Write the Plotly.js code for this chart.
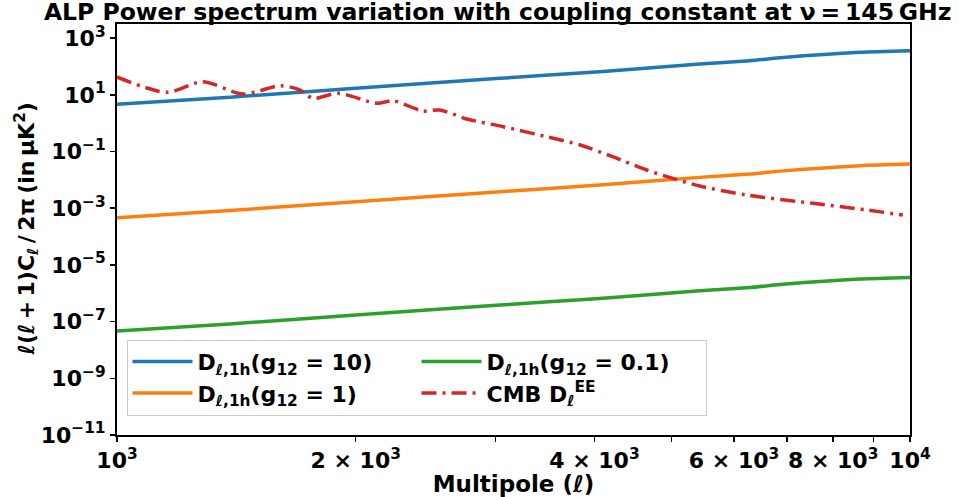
<!DOCTYPE html>
<html>
<head>
<meta charset="utf-8">
<script src="https://cdn.plot.ly/plotly-3.0.1.min.js"></script>
<style>html,body{margin:0;padding:0;background:#fff;}#chart{width:959px;height:497px;}</style>
</head>
<body>
<div id="chart"></div>
<script>
// Multipole values for the one-halo ALP spectra
const ellALP = [1000, 1388, 2000, 3040, 4060, 5430, 6280, 6920, 8650, 10000];
// D_{l,1h} for g12 = 10
const dG10 = [4.65, 8.3, 17.0, 38.4, 65.6, 122.7, 160, 208, 317, 361];
// D_{l,1h} for g12 = 1
const dG1 = [4.65e-4, 8.3e-4, 1.70e-3, 3.84e-3, 6.56e-3, 1.227e-2, 1.60e-2, 2.08e-2, 3.17e-2, 3.61e-2];
// D_{l,1h} for g12 = 0.1
const dG01 = [4.65e-8, 8.3e-8, 1.70e-7, 3.84e-7, 6.56e-7, 1.227e-6, 1.60e-6, 2.08e-6, 3.17e-6, 3.61e-6];
// CMB EE spectrum
const ellCMB = [1000, 1156, 1282, 1442, 1607, 1702, 1766, 1901, 2128, 2228, 2432, 2553, 2761, 3069, 3483, 3837, 4217, 4656, 5023, 5433, 6223, 7551, 8831, 9795];
const dCMB = [42.7, 12.3, 29.1, 10.7, 21.0, 14.8, 7.55, 11.35, 5.04, 6.22, 2.69, 2.92, 1.41, 0.752, 0.333, 0.170, 0.0658, 0.0223, 0.01135, 0.00608, 0.00292, 0.00149, 0.000865, 0.000575];

const xTickVals = [1000, 2000, 3000, 4000, 5000, 6000, 7000, 8000, 9000, 10000];
const xTickText = ['10<sup>3</sup>', '2 × 10<sup>3</sup>', '', '4 × 10<sup>3</sup>', '', '6 × 10<sup>3</sup>', '', '8 × 10<sup>3</sup>', '', '10<sup>4</sup>'];
const yTickVals = [1e3, 1e1, 1e-1, 1e-3, 1e-5, 1e-7, 1e-9, 1e-11];
const yTickText = ['10<sup>3</sup>', '10<sup>1</sup>', '10<sup>−1</sup>', '10<sup>−3</sup>', '10<sup>−5</sup>', '10<sup>−7</sup>', '10<sup>−9</sup>', '10<sup>−11</sup>'];

const seriesNames = [
  'D<sub>ℓ,1h</sub>(g<sub>12</sub> = 10)',
  'D<sub>ℓ,1h</sub>(g<sub>12</sub> = 1)',
  'D<sub>ℓ,1h</sub>(g<sub>12</sub> = 0.1)',
  'CMB D<sub>ℓ</sub><sup>EE</sup>'
];
const yTitle = 'ℓ(ℓ\u2009+\u20091)C<sub>ℓ</sub>\u2009/\u20092π\u2009(in\u2009μK<sup>2</sup>)';

const FONT = 'DejaVu Sans, sans-serif';

const traces = [
  {x: ellALP, y: dG10, name: seriesNames[0], mode: 'lines', legendrank: 1,
   line: {color: '#1f77b4', width: 3.5, shape: 'spline', smoothing: 0.6}},
  {x: ellALP, y: dG1, name: seriesNames[1], mode: 'lines', legendrank: 3,
   line: {color: '#ff7f0e', width: 3.5, shape: 'spline', smoothing: 0.6}},
  {x: ellALP, y: dG01, name: seriesNames[2], mode: 'lines', legendrank: 2,
   line: {color: '#2ca02c', width: 3.5, shape: 'spline', smoothing: 0.6}},
  {x: ellCMB, y: dCMB, name: seriesNames[3], mode: 'lines', legendrank: 4,
   line: {color: '#d62728', width: 3.5, dash: '15px,6px,3px,6px', shape: 'spline', smoothing: 0.8}}
];

const layout = {
  width: 959, height: 497,
  margin: {l: 117, r: 49, t: 24, b: 62},
  paper_bgcolor: '#fff', plot_bgcolor: '#fff',
  font: {family: FONT, color: '#000', size: 20, weight: 'bold'},
  title: {text: 'ALP Power spectrum variation with coupling constant at ν\u2009=\u2009145\u2009GHz',
          font: {family: FONT, size: 23.5, weight: 'bold', color: '#000'},
          x: 0.48, xref: 'paper', xanchor: 'center', y: 0.993, yref: 'container', yanchor: 'top'},
  xaxis: {
    type: 'log', range: [3, 4],
    tickvals: xTickVals, ticktext: xTickText,
    ticks: 'outside', ticklen: 5, tickwidth: 1.5, tickcolor: '#000',
    tickfont: {family: FONT, size: 22, weight: 'bold'},
    showgrid: false, zeroline: false,
    showline: true, linecolor: '#000', linewidth: 2, mirror: true,
    title: {text: 'Multipole (ℓ)', font: {family: FONT, size: 23, weight: 'bold'}, standoff: 2},
    automargin: false
  },
  yaxis: {
    type: 'log', range: [-11, 3.5],
    tickvals: yTickVals, ticktext: yTickText,
    ticks: 'outside', ticklen: 5, tickwidth: 1.5, tickcolor: '#000',
    tickfont: {family: FONT, size: 22, weight: 'bold'},
    showgrid: false, zeroline: false,
    showline: true, linecolor: '#000', linewidth: 2, mirror: true,
    automargin: false
  },
  annotations: [{
    text: yTitle, textangle: -90, showarrow: false,
    xref: 'paper', yref: 'paper', x: 0, y: 0.5, xanchor: 'center', yanchor: 'middle',
    xshift: -91, font: {family: FONT, size: 22, weight: 'bold', color: '#000'}
  }],
  showlegend: true,
  legend: {
    orientation: 'h', x: 0.012, y: 0.232, xanchor: 'left', yanchor: 'top',
    bgcolor: 'rgba(255,255,255,0.85)', bordercolor: '#cccccc', borderwidth: 1,
    font: {family: FONT, size: 22, weight: 'bold'},
    entrywidth: 214, itemwidth: 60, traceorder: 'normal'
  }
};

Plotly.newPlot('chart', traces, layout, {staticPlot: true, displayModeBar: false});
</script>
</body>
</html>
